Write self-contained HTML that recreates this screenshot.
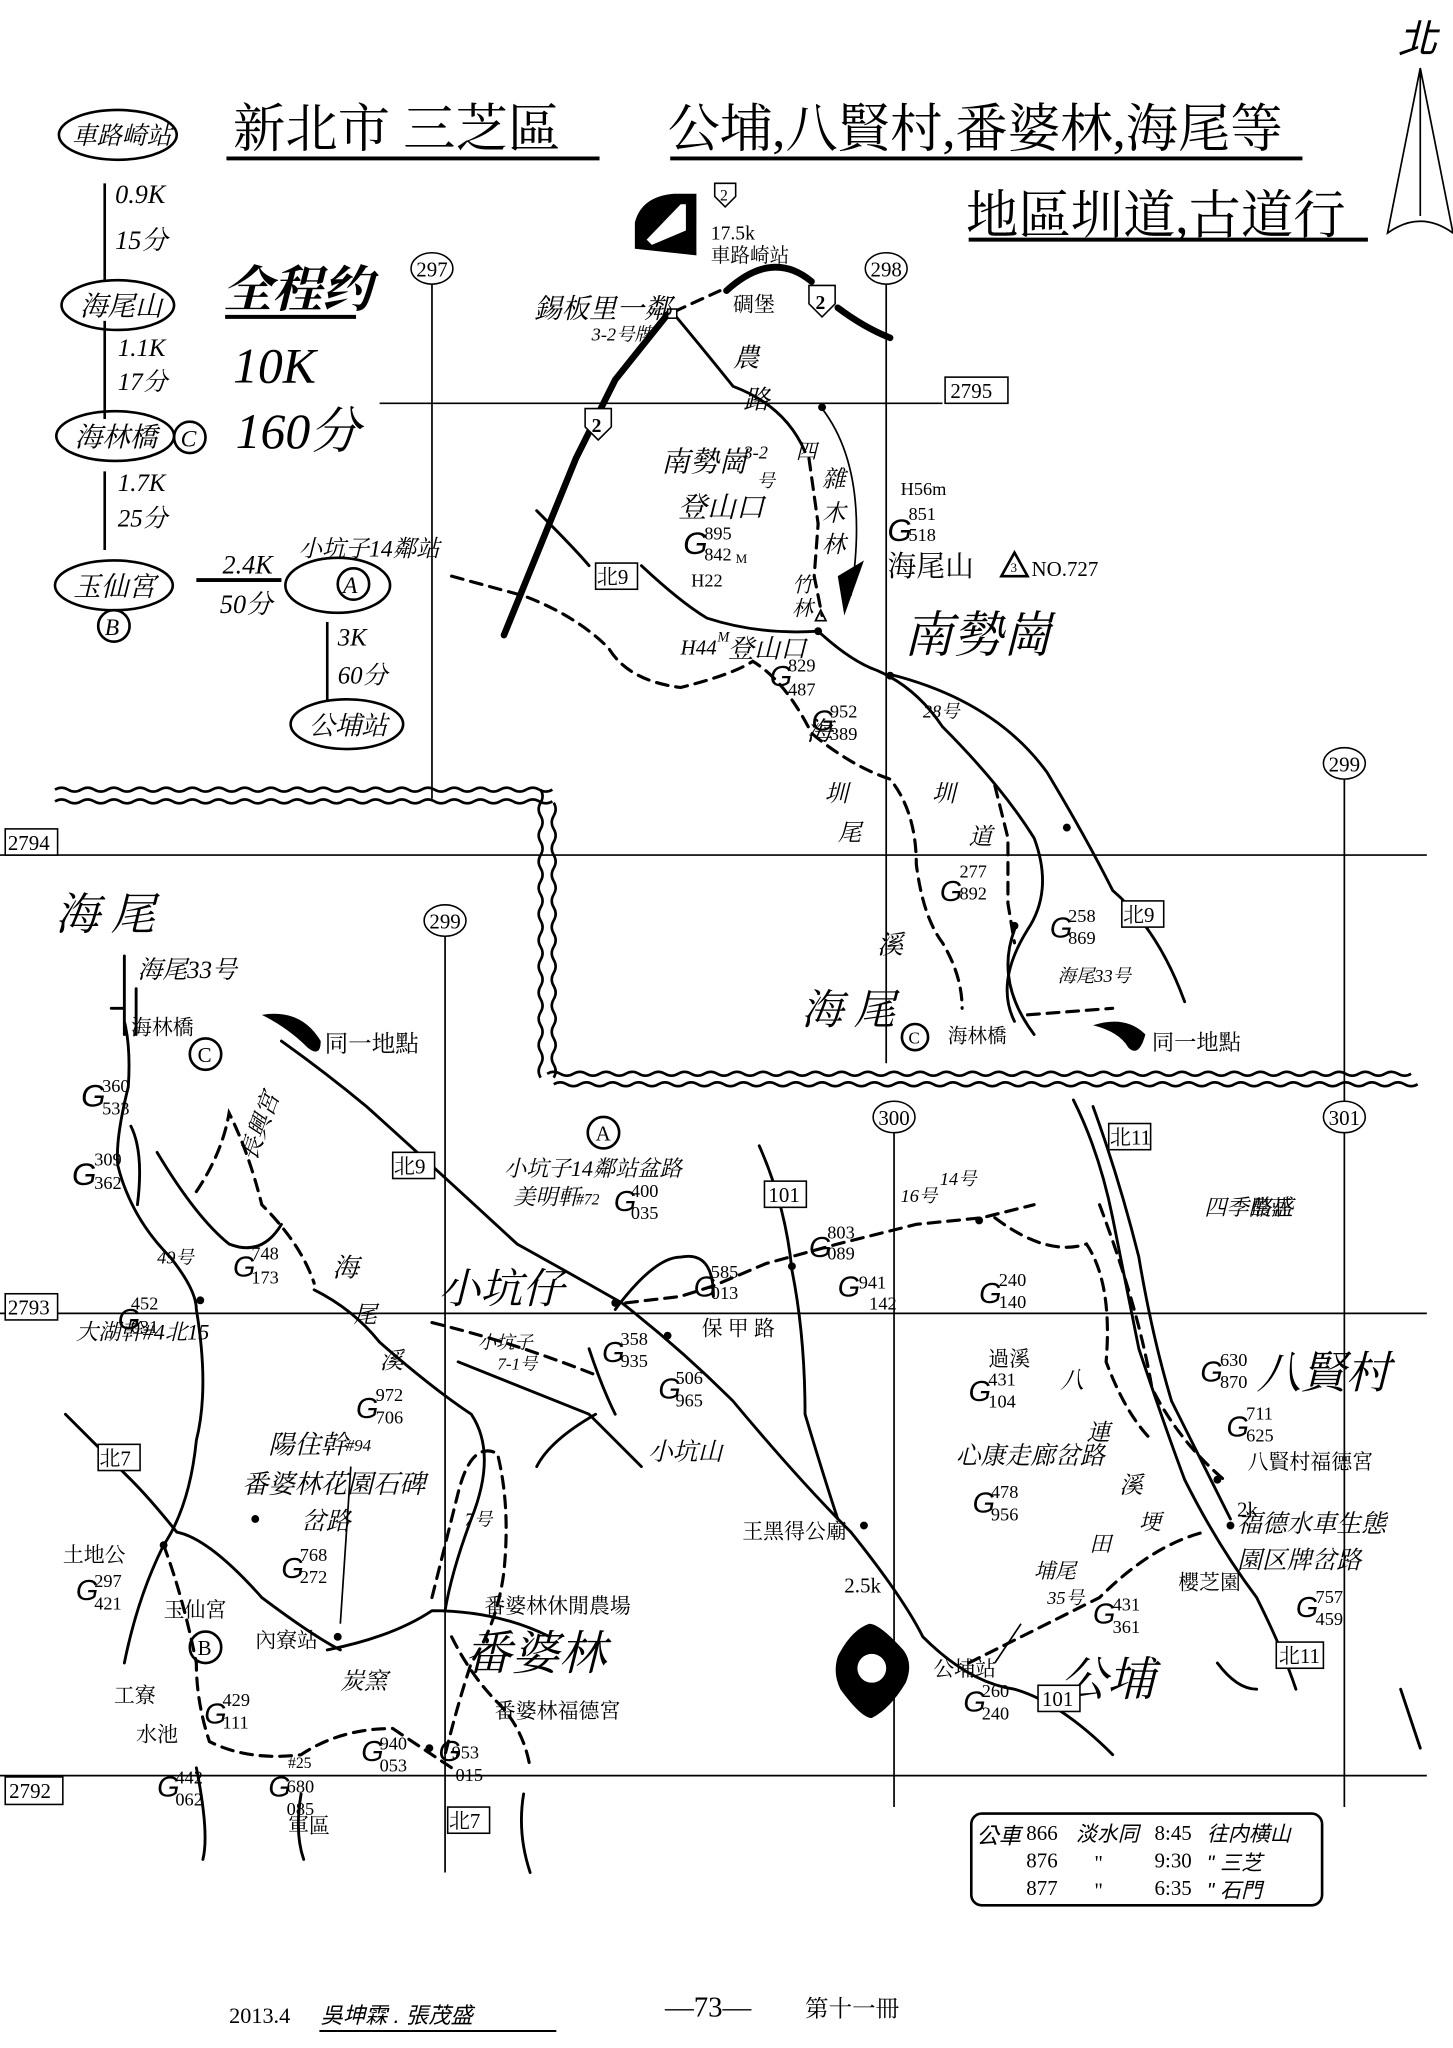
<!DOCTYPE html>
<html><head><meta charset="utf-8"><style>
html,body{margin:0;padding:0;background:#fff}
svg{display:block}
text{font-family:"Liberation Serif","Noto Serif CJK SC",serif;fill:#000}
.h{font-family:"Liberation Sans","Noto Sans CJK TC",sans-serif;font-style:italic}
.s{font-size:14px}
.l{fill:none;stroke:#000;stroke-width:2.2;stroke-linecap:round;stroke-linejoin:round}
.t{fill:none;stroke:#000;stroke-width:1.3}
.d{fill:none;stroke:#000;stroke-width:2.4;stroke-dasharray:9 6;stroke-linecap:round}
.k{fill:none;stroke:#000;stroke-width:5;stroke-linecap:round}
.w{fill:none;stroke:#000;stroke-width:2}
.b{fill:#fff;stroke:#000;stroke-width:1.2}
</style></head><body>
<svg width="1453" height="2048" viewBox="0 0 1110 1564" preserveAspectRatio="none" xmlns="http://www.w3.org/2000/svg">
<rect width="1110" height="1564" fill="#fff"/>
<text x="178" y="112" font-size="40">新北市 三芝區</text>
<line x1="173" y1="121" x2="458" y2="121" stroke="#000" stroke-width="3"/>
<text x="510" y="112" font-size="40">公埔,八賢村,番婆林,海尾等</text>
<line x1="512" y1="121" x2="995" y2="121" stroke="#000" stroke-width="3"/>
<text x="738" y="178" font-size="40">地區圳道,古道行</text>
<line x1="740" y1="183" x2="1045" y2="183" stroke="#000" stroke-width="3"/>
<text x="1068" y="40" font-size="30" class="h">北</text>
<path class="t" d="M1085 52 L1060 178 Q1085 160 1110 178 Z M1085 52 L1085 165" stroke-width="2"/>
<g class="h">
<ellipse cx="90" cy="103" rx="45" ry="19" class="w"/><text x="55" y="110" font-size="19">車路崎站</text>
<line x1="80" y1="140" x2="80" y2="215" stroke="#000" stroke-width="2"/>
<text x="88" y="155" font-size="20">0.9K</text><text x="88" y="190" font-size="20">15分</text>
<ellipse cx="90" cy="233" rx="43" ry="19" class="w"/><text x="61" y="241" font-size="21">海尾山</text>
<line x1="80" y1="245" x2="80" y2="320" stroke="#000" stroke-width="2"/>
<text x="90" y="272" font-size="19">1.1K</text><text x="90" y="298" font-size="19">17分</text>
<ellipse cx="88" cy="333" rx="45" ry="19" class="w"/><text x="57" y="341" font-size="21">海林橋</text>
<circle cx="145" cy="334" r="12" class="w"/><text x="138" y="341" font-size="18">C</text>
<line x1="80" y1="360" x2="80" y2="420" stroke="#000" stroke-width="2"/>
<text x="90" y="375" font-size="19">1.7K</text><text x="90" y="402" font-size="19">25分</text>
<ellipse cx="87" cy="447" rx="45" ry="19" class="w"/><text x="56" y="455" font-size="21">玉仙宮</text>
<circle cx="87" cy="478" r="12" class="w"/><text x="80" y="485" font-size="18">B</text>
<text x="170" y="234" font-size="38" font-weight="bold">全程约</text>
<line x1="172" y1="242" x2="272" y2="242" stroke="#000" stroke-width="3"/>
<text x="178" y="292" font-size="38">10K</text>
<text x="180" y="342" font-size="38">160分</text>
<text x="170" y="438" font-size="20">2.4K</text>
<line x1="150" y1="443" x2="215" y2="443" stroke="#000" stroke-width="3"/>
<text x="168" y="468" font-size="20">50分</text>
<text x="228" y="425" font-size="18">小坑子14鄰站</text>
<ellipse cx="258" cy="447" rx="40" ry="21" class="w"/><circle cx="270" cy="446" r="12" class="w"/><text x="262" y="453" font-size="18">A</text>
<line x1="250" y1="475" x2="250" y2="535" stroke="#000" stroke-width="2"/>
<text x="258" y="493" font-size="19">3K</text><text x="258" y="522" font-size="19">60分</text>
<ellipse cx="265" cy="553" rx="43" ry="19" class="w"/><text x="236" y="561" font-size="20">公埔站</text>
</g>
<path class="w" d="M42 603 q5-3 10 0 t10 0 t10 0 t10 0 t10 0 t10 0 t10 0 t10 0 t10 0 t10 0 t10 0 t10 0 t10 0 t10 0 t10 0 t10 0 t10 0 t10 0 t10 0 t10 0 t10 0 t10 0 t10 0 t10 0 t10 0 t10 0 t10 0 t10 0 t10 0 t10 0 t10 0 t10 0 t10 0 t10 0 t10 0 t10 0 t10 0 t10 0"/>
<path class="w" d="M42 612 q5-3 10 0 t10 0 t10 0 t10 0 t10 0 t10 0 t10 0 t10 0 t10 0 t10 0 t10 0 t10 0 t10 0 t10 0 t10 0 t10 0 t10 0 t10 0 t10 0 t10 0 t10 0 t10 0 t10 0 t10 0 t10 0 t10 0 t10 0 t10 0 t10 0 t10 0 t10 0 t10 0 t10 0 t10 0 t10 0 t10 0 t10 0 t10 0"/>
<path class="w" d="M413 603 q3 5 0 10 t0 10 t0 10 t0 10 t0 10 t0 10 t0 10 t0 10 t0 10 t0 10 t0 10 t0 10 t0 10 t0 10 t0 10 t0 10 t0 10 t0 10 t0 10 t0 10 t0 10 t0 10"/>
<path class="w" d="M423 613 q3 5 0 10 t0 10 t0 10 t0 10 t0 10 t0 10 t0 10 t0 10 t0 10 t0 10 t0 10 t0 10 t0 10 t0 10 t0 10 t0 10 t0 10 t0 10 t0 10 t0 10 t0 10"/>
<path class="w" d="M418 820 q5-3 10 0 t10 0 t10 0 t10 0 t10 0 t10 0 t10 0 t10 0 t10 0 t10 0 t10 0 t10 0 t10 0 t10 0 t10 0 t10 0 t10 0 t10 0 t10 0 t10 0 t10 0 t10 0 t10 0 t10 0 t10 0 t10 0 t10 0 t10 0 t10 0 t10 0 t10 0 t10 0 t10 0 t10 0 t10 0 t10 0 t10 0 t10 0 t10 0 t10 0 t10 0 t10 0 t10 0 t10 0 t10 0 t10 0 t10 0 t10 0 t10 0 t10 0 t10 0 t10 0 t10 0 t10 0 t10 0 t10 0 t10 0 t10 0 t10 0 t10 0 t10 0 t10 0 t10 0 t10 0 t10 0 t10 0"/>
<path class="w" d="M423 828 q5-3 10 0 t10 0 t10 0 t10 0 t10 0 t10 0 t10 0 t10 0 t10 0 t10 0 t10 0 t10 0 t10 0 t10 0 t10 0 t10 0 t10 0 t10 0 t10 0 t10 0 t10 0 t10 0 t10 0 t10 0 t10 0 t10 0 t10 0 t10 0 t10 0 t10 0 t10 0 t10 0 t10 0 t10 0 t10 0 t10 0 t10 0 t10 0 t10 0 t10 0 t10 0 t10 0 t10 0 t10 0 t10 0 t10 0 t10 0 t10 0 t10 0 t10 0 t10 0 t10 0 t10 0 t10 0 t10 0 t10 0 t10 0 t10 0 t10 0 t10 0 t10 0 t10 0 t10 0 t10 0 t10 0 t10 0"/>
<g class="t">
<line x1="330" y1="217" x2="330" y2="610"/>
<line x1="677" y1="217" x2="677" y2="812"/>
<line x1="290" y1="308" x2="720" y2="308"/>
<line x1="0" y1="653" x2="1090" y2="653"/>
<line x1="1027" y1="595" x2="1027" y2="1380"/>
<line x1="340" y1="715" x2="340" y2="1430"/>
<line x1="683" y1="865" x2="683" y2="1380"/>
<line x1="0" y1="1003" x2="1090" y2="1003"/>
<line x1="0" y1="1356" x2="1090" y2="1356"/>
</g>
<g font-size="16">
<ellipse cx="330" cy="205" rx="16" ry="12" class="b"/><text x="318" y="211">297</text>
<ellipse cx="677" cy="205" rx="16" ry="12" class="b"/><text x="665" y="211">298</text>
<rect x="722" y="288" width="48" height="20" class="b"/><text x="726" y="304">2795</text>
<ellipse cx="1027" cy="583" rx="16" ry="12" class="b"/><text x="1015" y="589">299</text>
<rect x="4" y="633" width="40" height="20" class="b"/><text x="6" y="649">2794</text>
<ellipse cx="340" cy="703" rx="16" ry="12" class="b"/><text x="328" y="709">299</text>
<ellipse cx="683" cy="853" rx="16" ry="12" class="b"/><text x="671" y="859">300</text>
<ellipse cx="1027" cy="853" rx="16" ry="12" class="b"/><text x="1015" y="859">301</text>
<rect x="4" y="988" width="40" height="20" class="b"/><text x="6" y="1004">2793</text>
<rect x="4" y="1357" width="44" height="21" class="b"/><text x="7" y="1373">2792</text>
</g>
<path class="k" d="M385 485 L440 350 L470 290 L510 240" stroke-width="4"/>
<path class="d" d="M515 238 L550 222"/>
<path class="k" d="M555 222 Q590 190 620 215" stroke-width="4"/>
<path class="k" d="M640 235 Q660 250 680 258" stroke-width="4"/>
<path class="l" d="M515 240 Q540 270 560 295 Q600 310 615 345"/>
<path class="d" d="M618 350 L625 400 L622 440 L628 470"/>
<path class="t" d="M628 312 Q665 360 650 455"/>
<path class="l" d="M410 390 Q440 420 450 432 M490 432 Q520 460 540 472 Q580 485 625 482 Q650 505 670 512 Q700 525 720 555 Q765 600 790 640 Q805 680 785 710 Q760 750 775 780"/>
<path class="d" d="M345 440 L400 455 Q440 470 465 495 Q480 520 520 525 Q560 515 575 505 Q600 520 620 560 Q650 585 680 595 Q700 620 700 660 Q705 700 720 720 Q735 745 735 770"/>
<path class="l" d="M680 515 Q760 535 800 590 Q830 640 850 680 Q885 710 905 765"/>
<path class="d" d="M760 600 L770 640 L770 690 L775 720"/>
<path class="l" d="M775 710 Q760 750 790 790"/>
<path class="d" d="M785 775 L850 770"/>
<circle cx="625" cy="482" r="3"/><circle cx="680" cy="516" r="3"/><circle cx="815" cy="632" r="3"/><circle cx="775" cy="707" r="3"/><circle cx="628" cy="311" r="3"/>
<path d="M485 190 L485 170 Q490 150 515 148 L532 148 L532 195 Z" fill="#000"/>
<path d="M494 183 L520 156 L524 156 L524 176 L498 187 Z" fill="#fff"/>
<g font-size="15">
<path d="M546 140 h16 v10 l-8 8 l-8-8z" class="b"/><text x="550" y="153" font-size="12">2</text>
<text x="543" y="183">17.5k</text><text x="543" y="200">車路崎站</text>
<path d="M447 312 h20 v14 l-10 10 l-10-10z" class="b" stroke-width="2.5"/><text x="452" y="330" font-size="15" font-weight="bold">2</text>
<path d="M618 218 h20 v14 l-10 10 l-10-10z" class="b" stroke-width="2.5"/><text x="623" y="236" font-size="15" font-weight="bold">2</text>
<text x="560" y="238" font-size="16">碉堡</text>
<rect x="510" y="236" width="7" height="7" class="b"/>
</g>
<g class="h">
<text x="408" y="243" font-size="21">錫板里一鄰</text>
<text x="452" y="260" font-size="14">3-2号牌</text>
<text x="560" y="280" font-size="20">農</text><text x="568" y="312" font-size="20">路</text>
<text x="505" y="360" font-size="22">南勢崗</text><text x="568" y="350" font-size="14">3-2</text><text x="578" y="372" font-size="14">号</text>
<text x="518" y="395" font-size="22">登山口</text>
<text x="608" y="350" font-size="16">四</text>
<text x="628" y="372" font-size="18">雜</text><text x="628" y="398" font-size="18">木</text><text x="628" y="422" font-size="18">林</text>
<text x="605" y="452" font-size="16">竹</text><text x="605" y="470" font-size="16">林</text>
<text x="520" y="500" font-size="16">H44</text><text x="548" y="490" font-size="11">M</text><text x="556" y="502" font-size="20">登山口</text>
<text x="616" y="565" font-size="20">海</text><text x="630" y="612" font-size="18">圳</text><text x="640" y="642" font-size="18">尾</text><text x="712" y="612" font-size="18">圳</text><text x="740" y="645" font-size="18">道</text>
<text x="705" y="548" font-size="14">28号</text>
<text x="670" y="728" font-size="20">溪</text>
<text x="612" y="782" font-size="32">海 尾</text>
<text x="690" y="498" font-size="38">南勢崗</text>
<text x="808" y="750" font-size="14">海尾33号</text>
</g>
<g>
<text x="522" y="423" font-size="24" class="h">G</text><text x="538" y="412" class="s">895</text><text x="538" y="428" class="s">842</text><text x="562" y="430" font-size="10">M</text><text x="528" y="448" class="s">H22</text>
<text x="688" y="378" class="s">H56m</text><text x="678" y="413" font-size="24" class="h">G</text><text x="694" y="397" class="s">851</text><text x="694" y="413" class="s">518</text>
<text x="678" y="440" font-size="22">海尾山</text>
<path d="M765 440 L775 422 L785 440 Z" class="w"/><text x="772" y="437" font-size="10">3</text>
<text x="788" y="440" font-size="16">NO.727</text>
<path d="M640 440 L660 428 L645 470 Z" fill="#000"/><path d="M623 474 L627 466 L631 474Z" class="t"/>
<text x="588" y="524" font-size="22" class="h">G</text><text x="602" y="513" class="s">829</text><text x="602" y="531" class="s">487</text>
<text x="620" y="558" font-size="22" class="h">G</text><text x="634" y="548" class="s">952</text><text x="634" y="565" class="s">389</text>
<text x="718" y="688" font-size="22" class="h">G</text><text x="733" y="670" class="s">277</text><text x="733" y="687" class="s">892</text>
<text x="802" y="716" font-size="22" class="h">G</text><text x="816" y="704" class="s">258</text><text x="816" y="721" class="s">869</text>
<rect x="857" y="688" width="32" height="20" class="b"/><text x="858" y="704" font-size="16">北9</text>
<rect x="455" y="430" width="32" height="20" class="b"/><text x="456" y="446" font-size="16">北9</text>
<circle cx="699" cy="792" r="10" class="w"/><text x="694" y="797" font-size="13">C</text>
<text x="724" y="796" font-size="15">海林橋</text>
<path d="M835 783 Q860 775 875 790 Q870 808 862 800 Q855 788 835 783Z" fill="#000"/>
<text x="880" y="802" font-size="17">同一地點</text>
</g>
<path class="l" d="M95 730 L95 790 M85 770 L95 770 M95 780 Q100 800 98 830 Q88 870 90 890 Q100 930 130 960 Q150 985 150 1000 Q160 1060 150 1100 Q145 1150 125 1180 Q105 1220 95 1270"/>
<path class="l" d="M50 1080 Q80 1110 100 1130 Q115 1145 135 1170 Q160 1175 200 1220 Q240 1250 260 1260"/>
<path class="d" d="M125 1180 Q140 1220 150 1270 Q150 1300 160 1330 Q190 1345 230 1340 Q260 1320 300 1320 Q330 1340 345 1350"/>
<path class="l" d="M215 795 Q250 820 280 845 Q330 890 395 950 Q440 975 475 995 Q520 1030 560 1070 Q610 1130 650 1170 Q690 1220 705 1250 Q740 1285 775 1290 Q810 1300 850 1340"/>
<path class="d" d="M478 995 L520 990 L545 982 L585 965 L640 950 L700 935 L750 930 L790 920"/>
<path class="l" d="M580 875 Q600 920 605 970 Q615 1020 615 1080 Q630 1130 640 1160"/>
<path class="l" d="M820 840 Q840 880 850 930 Q860 980 870 1030 Q890 1090 905 1130 Q930 1180 960 1220 Q980 1260 990 1290"/>
<path class="l" d="M835 845 Q855 900 870 960 Q880 1020 895 1070 Q920 1120 940 1160"/>
<path class="d" d="M840 920 Q870 1000 880 1060 Q900 1100 935 1130"/>
<path class="d" d="M760 930 Q800 960 830 950 Q850 980 845 1040 Q860 1080 880 1100"/>
<path class="d" d="M740 1270 Q800 1240 840 1220 Q880 1180 920 1170"/>
<path class="l" d="M100 860 Q110 880 105 920 M120 880 Q150 930 175 950 Q200 960 215 935"/>
<path class="d" d="M150 910 Q170 880 175 850 Q190 880 200 920 Q230 950 240 980"/>
<path class="l" d="M240 985 Q270 1000 290 1025 Q330 1060 360 1080 Q380 1110 360 1160 Q345 1200 340 1230"/>
<path class="d" d="M330 1220 Q340 1180 350 1140 Q360 1100 380 1110 Q390 1150 385 1200 Q380 1240 360 1270 Q350 1300 340 1340"/>
<path class="l" d="M250 1260 Q300 1250 330 1230 Q380 1230 420 1250"/>
<path class="d" d="M345 1250 Q360 1280 380 1300 Q400 1320 405 1350"/>
<path class="l" d="M350 1040 Q400 1060 450 1080 Q470 1100 490 1120 M450 1030 Q460 1060 470 1080"/>
<path class="d" d="M330 1010 Q370 1020 400 1030 Q430 1040 455 1050"/>
<path class="l" d="M470 1000 Q500 960 520 960 Q545 955 545 990 M455 1080 Q420 1100 410 1120"/>
<path class="t" d="M260 1240 L268 1120 M760 1270 L780 1240"/>
<path class="l" d="M150 1350 Q160 1400 155 1420 M230 1370 Q225 1400 232 1420 M400 1370 Q395 1400 405 1430"/>
<path class="l" d="M930 1270 Q945 1290 960 1290 M1070 1290 Q1080 1320 1085 1335"/>
<circle cx="153" cy="993" r="3"/><circle cx="470" cy="995" r="3"/><circle cx="510" cy="1020" r="3"/><circle cx="605" cy="967" r="3"/><circle cx="748" cy="932" r="3"/><circle cx="660" cy="1165" r="3"/><circle cx="258" cy="1250" r="3"/><circle cx="328" cy="1335" r="3"/><circle cx="930" cy="1130" r="3"/><circle cx="940" cy="1165" r="3"/><circle cx="125" cy="1180" r="3"/><circle cx="195" cy="1160" r="3"/>
<g class="h">
<text x="42" y="710" font-size="34">海 尾</text>
<text x="105" y="747" font-size="19">海尾33号</text>
<text x="193" y="875" font-size="18" transform="rotate(-70 203 880)">長興宮</text>
<text x="120" y="965" font-size="14">49号</text>
<text x="254" y="975" font-size="20">海</text><text x="270" y="1010" font-size="18">尾</text><text x="290" y="1045" font-size="18">溪</text>
<text x="335" y="995" font-size="32">小坑仔</text>
<text x="385" y="898" font-size="17">小坑子14鄰站盆路</text>
<text x="392" y="920" font-size="17">美明軒</text><text x="440" y="920" font-size="12">#72</text>
<text x="365" y="1030" font-size="14">小坑子</text><text x="380" y="1046" font-size="13">7-1号</text>
<text x="58" y="1023" font-size="17">大湖幹#4北15</text>
<text x="205" y="1110" font-size="20">陽住幹</text><text x="264" y="1108" font-size="13">#94</text>
<text x="185" y="1140" font-size="20">番婆林花園石碑</text>
<text x="230" y="1168" font-size="19">岔路</text>
<text x="355" y="1165" font-size="14">7号</text>
<text x="495" y="1115" font-size="19">小坑山</text>
<text x="730" y="1118" font-size="19">心康走廊岔路</text>
<text x="790" y="1205" font-size="16">埔尾</text><text x="800" y="1225" font-size="14">35号</text>
<text x="832" y="1185" font-size="17">田</text><text x="870" y="1168" font-size="17">埂</text>
<text x="810" y="1060" font-size="18">八</text><text x="830" y="1100" font-size="18">連</text><text x="855" y="1140" font-size="18">溪</text>
<text x="920" y="928" font-size="17">四季酪盛</text>
<text x="960" y="1060" font-size="34">八賢村</text>
<text x="945" y="1170" font-size="19">福德水車生態</text><text x="945" y="1198" font-size="19">園区牌岔路</text>
<text x="810" y="1295" font-size="36">公埔</text>
<text x="355" y="1275" font-size="36">番婆林</text>
<text x="718" y="905" font-size="14">14号</text><text x="688" y="918" font-size="14">16号</text>
<text x="260" y="1290" font-size="18">炭窯</text>
</g>
<g font-size="16">
<path class="l" d="M104 755 L104 790"/><text x="100" y="790">海林橋</text>
<circle cx="157" cy="805" r="12" class="w"/><text x="151" y="811">C</text>
<path d="M200 775 Q230 770 245 795 Q245 808 235 800 Q220 785 200 775Z" fill="#000"/>
<text x="248" y="803" font-size="18">同一地點</text>
<rect x="300" y="880" width="32" height="20" class="b"/><text x="301" y="896">北9</text>
<circle cx="461" cy="865" r="12" class="w"/><text x="455" y="871">A</text>
<rect x="584" y="902" width="32" height="20" class="b"/><text x="587" y="918">101</text>
<rect x="847" y="858" width="32" height="20" class="b"/><text x="848" y="874">北11</text>
<rect x="75" y="1103" width="32" height="20" class="b"/><text x="76" y="1119">北7</text>
<rect x="342" y="1380" width="32" height="20" class="b"/><text x="343" y="1396">北7</text>
<rect x="793" y="1287" width="32" height="20" class="b"/><text x="796" y="1303">101</text>
<rect x="975" y="1254" width="36" height="20" class="b"/><text x="977" y="1270">北11</text>
<text x="536" y="1020">保 甲 路</text>
<text x="955" y="928">農莊</text>
<text x="755" y="1043">過溪</text>
<text x="953" y="1122">八賢村福德宮</text>
<text x="945" y="1158">2k</text>
<text x="900" y="1214">櫻芝園</text>
<text x="567" y="1175">王黑得公廟</text>
<text x="645" y="1216">2.5k</text>
<text x="713" y="1280">公埔站</text>
<text x="48" y="1193">土地公</text>
<text x="125" y="1235">玉仙宮</text>
<circle cx="157" cy="1258" r="12" class="w"/><text x="151" y="1264">B</text>
<text x="195" y="1258">內寮站</text>
<text x="87" y="1300">工寮</text><text x="104" y="1330">水池</text>
<text x="220" y="1400">軍區</text>
<text x="370" y="1232">番婆林休閒農場</text>
<text x="378" y="1312">番婆林福德宮</text>
</g>
<path d="M664 1240 Q672 1240 690 1260 Q698 1270 692 1285 Q680 1305 666 1312 Q658 1312 642 1290 Q636 1278 640 1265 Q650 1245 664 1240Z" fill="#000"/><circle cx="666" cy="1274" r="11" fill="#fff"/>
<g>
<text x="62" y="845" font-size="24" class="h">G</text><text x="78" y="834" class="s">360</text><text x="78" y="851" class="s">533</text>
<text x="55" y="905" font-size="24" class="h">G</text><text x="72" y="890" class="s">309</text><text x="72" y="908" class="s">362</text>
<text x="178" y="975" font-size="22" class="h">G</text><text x="192" y="962" class="s">748</text><text x="192" y="980" class="s">173</text>
<text x="90" y="1015" font-size="22" class="h">G</text><text x="100" y="1000" class="s">452</text><text x="100" y="1018" class="s">031</text>
<text x="469" y="925" font-size="22" class="h">G</text><text x="482" y="914" class="s">400</text><text x="482" y="931" class="s">035</text>
<text x="530" y="990" font-size="22" class="h">G</text><text x="543" y="976" class="s">585</text><text x="543" y="992" class="s">013</text>
<text x="460" y="1040" font-size="22" class="h">G</text><text x="474" y="1027" class="s">358</text><text x="474" y="1044" class="s">935</text>
<text x="503" y="1068" font-size="22" class="h">G</text><text x="516" y="1057" class="s">506</text><text x="516" y="1074" class="s">965</text>
<text x="618" y="960" font-size="22" class="h">G</text><text x="632" y="946" class="s">803</text><text x="632" y="962" class="s">089</text>
<text x="640" y="990" font-size="22" class="h">G</text><text x="656" y="984" class="s">941</text><text x="664" y="1000" class="s">142</text>
<text x="748" y="995" font-size="22" class="h">G</text><text x="763" y="982" class="s">240</text><text x="763" y="999" class="s">140</text>
<text x="740" y="1070" font-size="22" class="h">G</text><text x="755" y="1058" class="s">431</text><text x="755" y="1075" class="s">104</text>
<text x="917" y="1055" font-size="22" class="h">G</text><text x="932" y="1043" class="s">630</text><text x="932" y="1060" class="s">870</text>
<text x="937" y="1097" font-size="22" class="h">G</text><text x="952" y="1084" class="s">711</text><text x="952" y="1101" class="s">625</text>
<text x="743" y="1155" font-size="22" class="h">G</text><text x="757" y="1144" class="s">478</text><text x="757" y="1161" class="s">956</text>
<text x="835" y="1240" font-size="22" class="h">G</text><text x="850" y="1230" class="s">431</text><text x="850" y="1247" class="s">361</text>
<text x="990" y="1235" font-size="22" class="h">G</text><text x="1005" y="1224" class="s">757</text><text x="1005" y="1241" class="s">459</text>
<text x="736" y="1307" font-size="22" class="h">G</text><text x="750" y="1296" class="s">260</text><text x="750" y="1313" class="s">240</text>
<text x="272" y="1083" font-size="22" class="h">G</text><text x="287" y="1070" class="s">972</text><text x="287" y="1087" class="s">706</text>
<text x="215" y="1205" font-size="22" class="h">G</text><text x="229" y="1192" class="s">768</text><text x="229" y="1209" class="s">272</text>
<text x="58" y="1222" font-size="22" class="h">G</text><text x="72" y="1212" class="s">297</text><text x="72" y="1229" class="s">421</text>
<text x="156" y="1316" font-size="22" class="h">G</text><text x="170" y="1303" class="s">429</text><text x="170" y="1320" class="s">111</text>
<text x="120" y="1372" font-size="22" class="h">G</text><text x="134" y="1362" class="s">442</text><text x="134" y="1379" class="s">062</text>
<text x="205" y="1372" font-size="22" class="h">G</text><text x="219" y="1369" class="s">680</text><text x="219" y="1386" class="s">085</text><text x="220" y="1350" font-size="12">#25</text>
<text x="276" y="1345" font-size="22" class="h">G</text><text x="290" y="1336" class="s">940</text><text x="290" y="1353" class="s">053</text>
<text x="335" y="1345" font-size="22" class="h">G</text><text x="345" y="1343" class="s">953</text><text x="348" y="1360" class="s">015</text>
</g>
<rect x="742" y="1385" width="268" height="70" rx="8" class="w" stroke-width="1.3"/>
<g font-size="16">
<text x="746" y="1408" class="h" font-size="17">公車</text><text x="784" y="1405">866</text><text x="784" y="1426">876</text><text x="784" y="1447">877</text>
<text x="822" y="1406" class="h" font-size="16">淡水同</text><text x="836" y="1428">"</text><text x="836" y="1449">"</text>
<text x="882" y="1405">8:45</text><text x="882" y="1426">9:30</text><text x="882" y="1447">6:35</text>
<text x="922" y="1406" class="h" font-size="16">往内横山</text><text x="922" y="1428" class="h" font-size="16">" 三芝</text><text x="922" y="1449" class="h" font-size="16">" 石門</text>
</g>
<text x="175" y="1545" font-size="17">2013.4</text>
<text x="245" y="1545" font-size="17" class="h">吳坤霖 . 張茂盛</text>
<line x1="244" y1="1551" x2="425" y2="1551" stroke="#000" stroke-width="1.5"/>
<text x="508" y="1540" font-size="22">—73—</text>
<text x="615" y="1540" font-size="18">第十一冊</text>
</svg>
</body></html>
